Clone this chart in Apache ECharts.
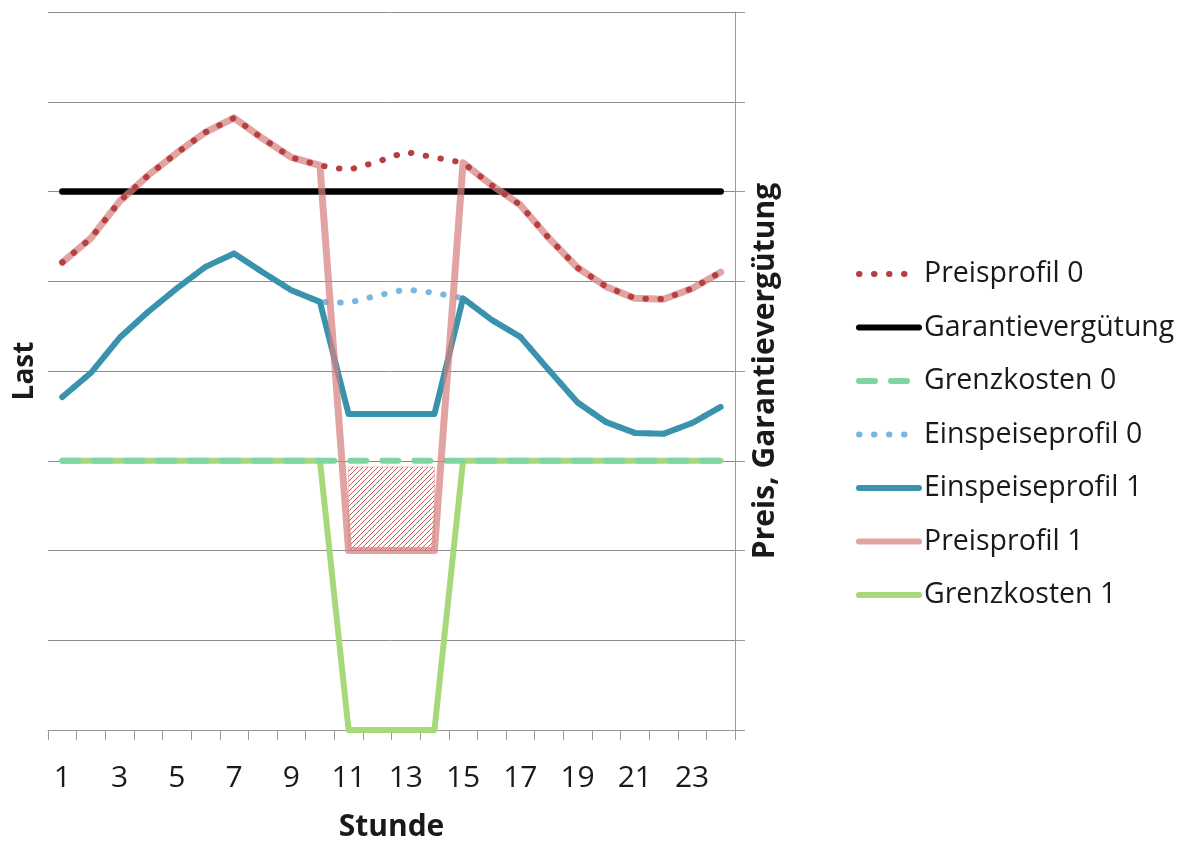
<!DOCTYPE html>
<html>
<head>
<meta charset="utf-8">
<script src="https://cdn.jsdelivr.net/npm/echarts@6/dist/echarts.min.js"></script>
<style>html,body{margin:0;padding:0;background:#fff;}#main{width:1187px;height:845px;}</style>
</head>
<body>
<div id="main"></div>
<script>
var hours = ['1','2','3','4','5','6','7','8','9','10','11','12','13','14','15','16','17','18','19','20','21','22','23','24'];
var preisprofil0 = [5.21,5.48,5.89,6.18,6.43,6.66,6.82,6.59,6.38,6.29,6.24,6.33,6.44,6.38,6.32,6.07,5.85,5.48,5.15,4.94,4.81,4.80,4.92,5.10];
var preisprofil1 = [5.21,5.48,5.89,6.18,6.43,6.66,6.82,6.59,6.38,6.29,2.0,2.0,2.0,2.0,6.32,6.07,5.85,5.48,5.15,4.94,4.81,4.80,4.92,5.10];
var garantie = [6,6,6,6,6,6,6,6,6,6,6,6,6,6,6,6,6,6,6,6,6,6,6,6];
var grenzkosten0 = [3,3,3,3,3,3,3,3,3,3,3,3,3,3,3,3,3,3,3,3,3,3,3,3];
var grenzkosten1 = [3,3,3,3,3,3,3,3,3,3,0,0,0,0,3,3,3,3,3,3,3,3,3,3];
var einspeise0 = [3.71,3.98,4.37,4.66,4.92,5.16,5.31,5.10,4.90,4.77,4.76,4.84,4.91,4.87,4.81,4.57,4.38,4.01,3.65,3.43,3.31,3.30,3.42,3.60];
var einspeise1 = [3.71,3.98,4.37,4.66,4.92,5.16,5.31,5.10,4.90,4.77,3.52,3.52,3.52,3.52,4.81,4.57,4.38,4.01,3.65,3.43,3.31,3.30,3.42,3.60];
var hatchFrom = ['11', 2.0];
var hatchTo = ['14', 2.93];
var legendNames = ['Preisprofil 0','Garantievergütung','Grenzkosten 0','Einspeiseprofil 0','Einspeiseprofil 1','Preisprofil 1','Grenzkosten 1'];

var pc = document.createElement('canvas');
pc.width = 5; pc.height = 5;
var ctx = pc.getContext('2d');
ctx.strokeStyle = '#d25a5a';
ctx.lineWidth = 1;
ctx.beginPath();
ctx.moveTo(0,5); ctx.lineTo(5,0);
ctx.moveTo(-1,1); ctx.lineTo(1,-1);
ctx.moveTo(4,6); ctx.lineTo(6,4);
ctx.stroke();

var font = '"Open Sans", "Noto Sans", sans-serif';
var chart = echarts.init(document.getElementById('main'));
chart.setOption({
  animation: false,
  backgroundColor: '#fff',
  grid: {left: 48, right: 452, top: 12, bottom: 115, containLabel: false, outerBoundsMode: 'none'},
  legend: {
    orient: 'vertical', left: 856, top: 257, padding: 0,
    itemWidth: 60, itemHeight: 1, itemGap: 19.5,
    lineStyle: {width: 6},
    itemStyle: {opacity: 0},
    textStyle: {fontFamily: font, fontSize: 28.5, color: '#1a1a1a', lineHeight: 34},
    data: legendNames
  },
  xAxis: {
    type: 'category', data: hours, boundaryGap: true,
    name: 'Stunde', nameLocation: 'middle', nameGap: 82,
    nameTextStyle: {fontFamily: font, fontSize: 30, fontWeight: 'bold', color: '#1a1a1a'},
    axisLine: {lineStyle: {color: '#9a9a9a', width: 1}},
    axisTick: {show: true, interval: 0, length: 10, lineStyle: {color: '#9a9a9a'}},
    axisLabel: {interval: 1, margin: 33, fontFamily: font, fontSize: 30, color: '#1a1a1a'},
    splitLine: {show: false}
  },
  yAxis: [{
    type: 'value', min: 0, max: 8, interval: 1, position: 'left',
    name: 'Last', nameLocation: 'middle', nameGap: 9,
    nameTextStyle: {fontFamily: font, fontSize: 28, fontWeight: 'bold', color: '#1a1a1a'},
    axisLine: {show: false}, axisTick: {show: false}, axisLabel: {show: false},
    splitLine: {show: true, lineStyle: {color: '#8c8c8c', width: 1}}
  }, {
    type: 'value', min: 0, max: 8, interval: 1, position: 'right',
    name: 'Preis, Garantievergütung', nameLocation: 'middle', nameGap: 15, nameRotate: 90,
    nameTextStyle: {fontFamily: font, fontSize: 30, fontWeight: 'bold', color: '#1a1a1a'},
    axisLine: {show: true, lineStyle: {color: '#9a9a9a', width: 1}},
    axisTick: {show: true, length: 10, lineStyle: {color: '#9a9a9a'}},
    axisLabel: {show: false}, splitLine: {show: false}
  }],
  series: [
    {name: 'Grenzkosten 1', type: 'line', data: grenzkosten1, symbol: 'none', color: '#a6d97a',
      lineStyle: {color: '#a6d97a', width: 6, cap: 'round', join: 'round'},
      markArea: {silent: true, itemStyle: {color: {image: pc, repeat: 'repeat'}, borderColor: 'rgba(200,90,90,0.35)', borderWidth: 1},
        data: [[{xAxis: hatchFrom[0], yAxis: hatchFrom[1]}, {xAxis: hatchTo[0], yAxis: hatchTo[1]}]]}},
    {name: 'Grenzkosten 0', type: 'line', data: grenzkosten0, symbol: 'none', color: '#7fd6a4',
      lineStyle: {color: '#7fd6a4', width: 6, type: [16, 16], cap: 'round'}},
    {name: 'Einspeiseprofil 0', type: 'line', data: einspeise0, symbol: 'none', color: '#7ab6e2',
      lineStyle: {color: '#7ab6e2', width: 6, type: [0.5, 14.5], cap: 'round'}},
    {name: 'Einspeiseprofil 1', type: 'line', data: einspeise1, symbol: 'none', color: '#3a93ad',
      lineStyle: {color: '#3a93ad', width: 6, cap: 'round', join: 'round'}},
    {name: 'Garantievergütung', type: 'line', yAxisIndex: 1, data: garantie, symbol: 'none', color: '#000',
      lineStyle: {color: '#000', width: 6.5, cap: 'round'}},
    {name: 'Preisprofil 1', type: 'line', yAxisIndex: 1, data: preisprofil1, symbol: 'none', color: 'rgba(215,128,128,0.72)',
      lineStyle: {color: 'rgba(215,128,128,0.72)', width: 7, cap: 'round', join: 'round'}},
    {name: 'Preisprofil 0', type: 'line', yAxisIndex: 1, data: preisprofil0, symbol: 'none', color: '#b5403f',
      lineStyle: {color: '#b5403f', width: 6, type: [0.5, 14.5], cap: 'round'}}
  ]
});
</script>
</body>
</html>
